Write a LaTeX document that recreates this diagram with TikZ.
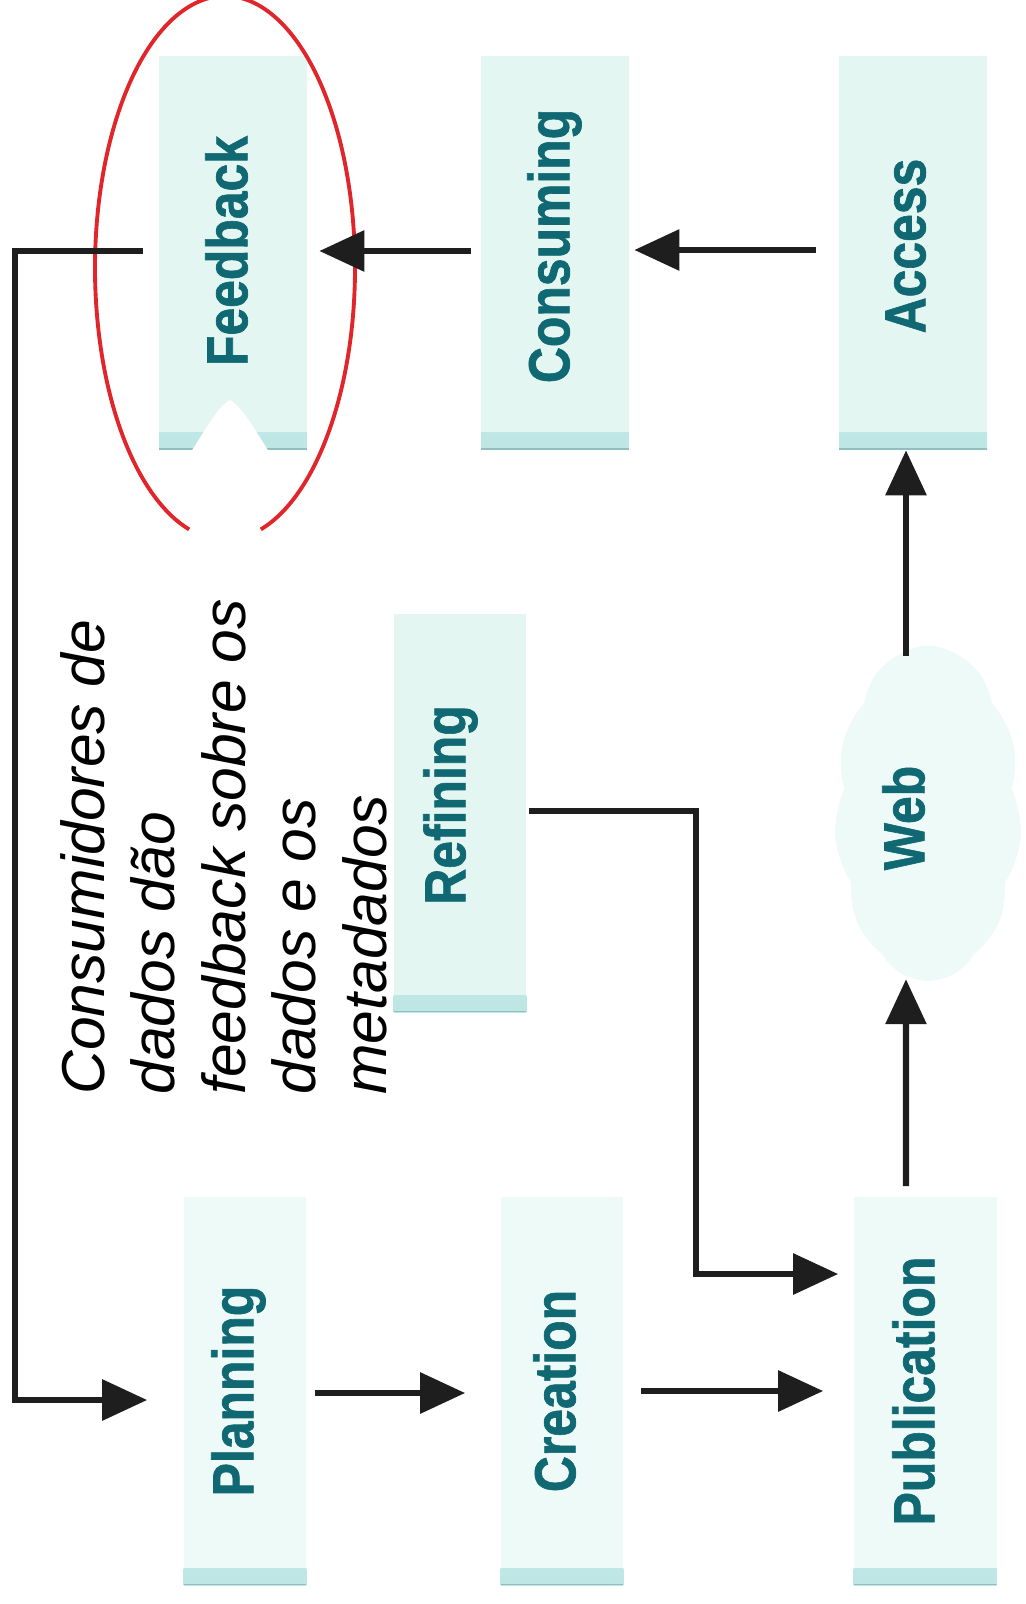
\documentclass[tikz,border=0pt]{standalone}
\usepackage{fontspec}
\setmainfont{Liberation Sans}
\newfontfamily\lblfont[FakeBold=1.2]{Liberation Sans Bold}
\usetikzlibrary{arrows.meta,shapes.symbols,calc}
\definecolor{lbcol}{HTML}{0F6872}
\definecolor{boxfill}{HTML}{E4F6F1}
\definecolor{boxlight}{HTML}{EEFAF8}
\definecolor{boxedge}{HTML}{BDE6E5}
\definecolor{boxline}{HTML}{8FBFC0}
\definecolor{ellred}{HTML}{E0262B}
\definecolor{arrcol}{HTML}{1E1E1E}
\begin{document}
\begin{tikzpicture}[x=0.02cm,y=-0.02cm,
  box/.style={rectangle, inner sep=0pt, fill=#1,
    path picture={\shade[top color=#1, bottom color=boxedge]
      ([yshift=0.34cm]path picture bounding box.south west) rectangle (path picture bounding box.south east);
      \draw[boxline, line width=0.8pt] ([yshift=0.02cm]path picture bounding box.south west) -- ([yshift=0.02cm]path picture bounding box.south east);}},
  box/.default=boxfill,
  lbl/.style={rotate=90, inner sep=0pt, text=lbcol, text height=0.72em, text depth=0pt,
    font=\lblfont\fontsize{33pt}{33pt}\selectfont},
  arr/.style={draw=arrcol, line width=3.5pt, -{Triangle[length=0.9cm,width=0.8cm]}},
  captxt/.style={rotate=90, inner sep=0pt, anchor=north west, align=left,
    font=\itshape\fontsize{34.5pt}{40.1pt}\selectfont, text=black}
]
\path[use as bounding box] (0,0) rectangle (1025,1604);

% boxes
\node[box, minimum width=2.96cm, minimum height=7.88cm] (feedback) at (233,253) {};
\node[box, minimum width=2.96cm, minimum height=7.88cm] (consuming) at (555,253) {};
\node[box, minimum width=2.96cm, minimum height=7.88cm] (access) at (913,253) {};
\node[box, minimum width=2.66cm, minimum height=7.98cm] (refining) at (460,813) {};
\node[box=boxlight, minimum width=2.46cm, minimum height=7.78cm] (planning) at (245,1391) {};
\node[box=boxlight, minimum width=2.46cm, minimum height=7.78cm] (creation) at (562,1391) {};
\node[box=boxlight, minimum width=2.86cm, minimum height=7.78cm] (publication) at (925,1391) {};
\node[cloud, cloud puffs=11, cloud puff arc=60, aspect=0.56, inner sep=0pt,
      fill=boxlight, minimum width=3.75cm, minimum height=6.7cm] (web) at (928,813) {};

% white notch at the bottom of the Feedback box
\fill[white] (189,455) .. controls (204,432) and (218,406) .. (230,400)
  .. controls (242,406) and (256,432) .. (271,455) -- cycle;

% labels
\node[lbl] (tfeedback) at (241,251) {\scalebox{0.86}[1]{Feedback}};
\node[lbl] (tconsuming) at (563,246) {\scalebox{0.86}[1]{Consuming}};
\node[lbl] (taccess) at (919,246) {\scalebox{0.86}[1]{Access}};
\node[lbl] (trefining) at (459,805) {\scalebox{0.86}[1]{Refining}};
\node[lbl] (tweb) at (918,818) {\scalebox{0.86}[1]{Web}};
\node[lbl] (tplanning) at (247,1391) {\scalebox{0.86}[1]{Planning}};
\node[lbl] (tcreation) at (569,1391) {\scalebox{0.86}[1]{Creation}};
\node[lbl] (tpublication) at (928,1391) {\scalebox{0.86}[1]{Publication}};

% caption
\node[captxt] (caption) at (60,1095) {Consumidores de\\dados dão\\feedback sobre os\\dados e os\\metadados};

% red ellipse, open at the bottom
\coordinate (ec) at (225,268);
\draw[ellred, line width=2.2pt] (ec) ++(286:2.6cm and 5.44cm)
  arc[start angle=286, end angle=614, x radius=2.6cm, y radius=5.44cm];

% connectors
\coordinate (loopc) at (15,800);
\coordinate (refc) at (696,1000);
\draw[arr] ($(access.west)+(-23,-3)$) -- ($(consuming.east)+(5,-3)$);
\draw[arr] ($(consuming.west)+(-10,-2)$) -- ($(feedback.east)+(12,-2)$);
\draw[arr] ($(feedback.west)+(-16,-2)$) -| (loopc) |- ($(planning.west)+(-36,9)$);
\draw[arr] ($(planning.east)+(8,2)$) -- ($(creation.west)+(-35,2)$);
\draw[arr] ($(creation.east)+(17,0)$) -- ($(publication.west)+(-30,0)$);
\draw[arr] ($(refining.east)+(2,-2)$) -| (refc) |- ($(publication.west)+(-15,-117)$);
\draw[arr] ($(publication.north)+(-19,-10)$) -- ($(web.south)+(-22,-2)$);
\draw[arr] ($(web.north)+(-22,11)$) -- ($(access.south)+(-7,0)$);
\end{tikzpicture}
\end{document}
